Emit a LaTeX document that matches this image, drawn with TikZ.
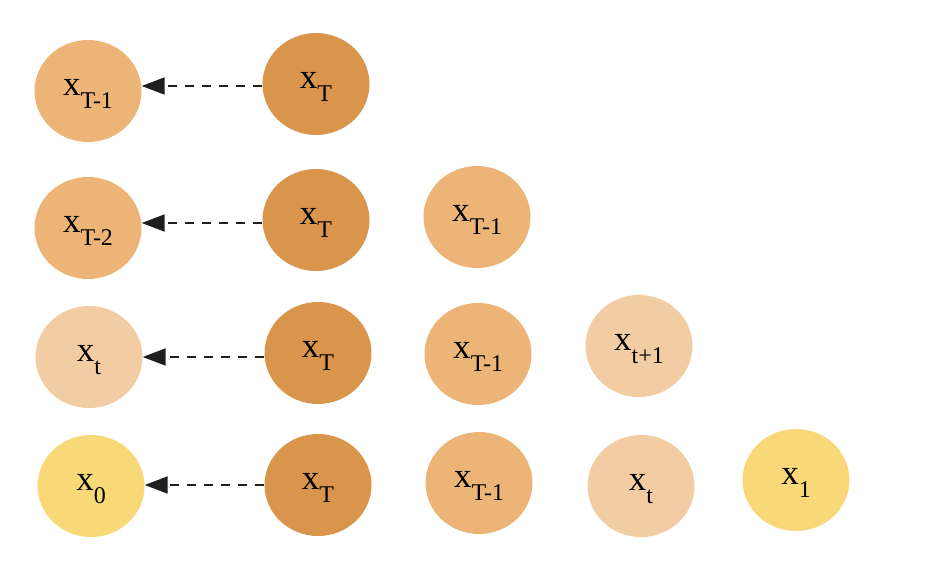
\documentclass[tikz,border=0pt]{standalone}
\usepackage{fontspec}
\setmainfont{Liberation Serif}
\usetikzlibrary{shapes.geometric,arrows.meta}
\definecolor{cdark}{HTML}{DA954C}
\definecolor{cmid}{HTML}{ECB477}
\definecolor{clight}{HTML}{F2CDA3}
\definecolor{cyel}{HTML}{F9D977}
\newcommand{\xs}[1]{\raisebox{-4pt}[0pt][0pt]{{\fontsize{35}{35}\selectfont x}\raisebox{-13pt}{\fontsize{24}{24}\selectfont #1}}}
\tikzset{
  state/.style={ellipse, minimum width=107pt, minimum height=102pt, inner sep=0pt, draw=none},
  sdark/.style={state, fill=cdark},
  smid/.style={state, fill=cmid},
  slight/.style={state, fill=clight},
  syel/.style={state, fill=cyel},
  back/.style={draw=black!88, line width=2pt, dash pattern=on 9pt off 8pt,
    -{Triangle[length=23pt,width=17pt]}},
}
\begin{document}
\begin{tikzpicture}[x=1pt,y=-1pt]
\useasboundingbox (0,0) rectangle (942,562);
% row 1
\node[smid]  (a1) at (88,91)  {\xs{T-1}};
\node[sdark] (b1) at (316,84) {\xs{T}};
% row 2
\node[smid]  (a2) at (88,228)  {\xs{T-2}};
\node[sdark] (b2) at (316,220) {\xs{T}};
\node[smid]  (c2) at (477,217) {\xs{T-1}};
% row 3
\node[slight] (a3) at (89,357)  {\xs{t}};
\node[sdark]  (b3) at (318,353) {\xs{T}};
\node[smid]   (c3) at (478,354) {\xs{T-1}};
\node[slight] (d3) at (639,346) {\xs{t+1}};
% row 4
\node[syel]   (a4) at (91,486)  {\xs{0}};
\node[sdark]  (b4) at (318,485) {\xs{T}};
\node[smid]   (c4) at (479,483) {\xs{T-1}};
\node[slight] (d4) at (641,486) {\xs{t}};
\node[syel]   (e4) at (796,480) {\xs{1}};
% arrows
\draw[back] ([yshift=-2pt]b1.west) -- ([yshift=-2pt]a1.east |- b1.west);
\draw[back] ([yshift=-3pt]b2.west) -- ([yshift=-3pt]a2.east |- b2.west);
\draw[back] ([yshift=-4pt]b3.west) -- ([yshift=-4pt]a3.east |- b3.west);
\draw[back] (b4.west) -- (a4.east |- b4.west);
\end{tikzpicture}
\end{document}
